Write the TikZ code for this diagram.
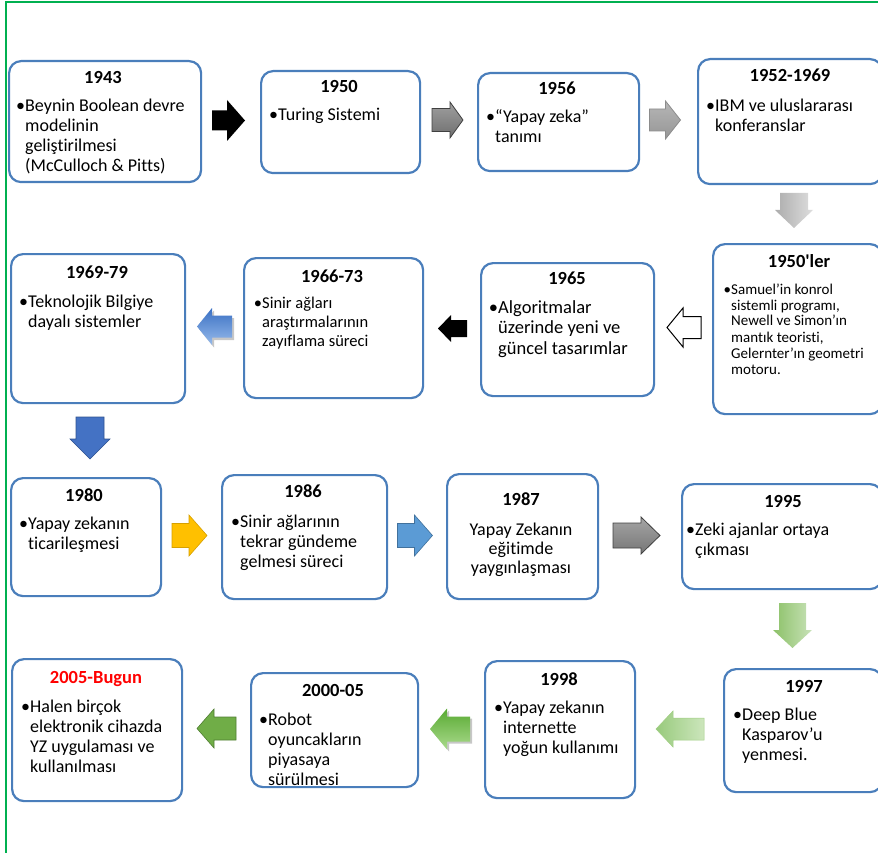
\documentclass[tikz,border=0pt]{standalone}
\usepackage{fontspec}
\newfontfamily\calibri{Carlito}[Ligatures=NoCommon]
\definecolor{boxblue}{HTML}{4A7EBB}
\definecolor{frame}{HTML}{00B050}
\newcommand\blt{\leavevmode\llap{\textbullet}}
% block arrows: #1 name, #2 centre, #3 length, #4 head width, #5 shaft width, #6 head length, #7 style
\newcommand\barwR[7]{%
  \coordinate (#1) at #2;
  \path[#7, shift={(#1)}]
    ({-(#3)/2},{-(#5)/2}) -- ({(#3)/2-(#6)},{-(#5)/2}) -- ({(#3)/2-(#6)},{-(#4)/2})
    -- ({(#3)/2},0) -- ({(#3)/2-(#6)},{(#4)/2}) -- ({(#3)/2-(#6)},{(#5)/2})
    -- ({-(#3)/2},{(#5)/2}) -- cycle;}
\newcommand\barwL[7]{%
  \coordinate (#1) at #2;
  \path[#7, shift={(#1)}]
    ({(#3)/2},{-(#5)/2}) -- ({-(#3)/2+(#6)},{-(#5)/2}) -- ({-(#3)/2+(#6)},{-(#4)/2})
    -- ({-(#3)/2},0) -- ({-(#3)/2+(#6)},{(#4)/2}) -- ({-(#3)/2+(#6)},{(#5)/2})
    -- ({(#3)/2},{(#5)/2}) -- cycle;}
\newcommand\barwD[7]{%
  \coordinate (#1) at #2;
  \path[#7, shift={(#1)}]
    ({-(#5)/2},{-(#3)/2}) -- ({-(#5)/2},{(#3)/2-(#6)}) -- ({-(#4)/2},{(#3)/2-(#6)})
    -- (0,{(#3)/2}) -- ({(#4)/2},{(#3)/2-(#6)}) -- ({(#5)/2},{(#3)/2-(#6)})
    -- ({(#5)/2},{-(#3)/2}) -- cycle;}
\tikzset{
  tlbox/.style={draw=boxblue, line width=2.2pt, rounded corners=12pt, fill=white, anchor=north west, inner sep=0pt},
  yr/.style={inner sep=0pt, anchor=base, font=\calibri\bfseries\fontsize{18.5}{20}\selectfont},
  bt/.style={inner sep=0pt, anchor=base west, font=\calibri\fontsize{18}{20}\selectfont},
  ashadow/.style={fill=black, opacity=0.22},
}
\begin{document}
\begin{tikzpicture}[x=1pt,y=-1pt]
\useasboundingbox (0,0) rectangle (878,853);
% frame
\coordinate (fl) at (6,853);
\coordinate (ftl) at (6,2);
\coordinate (ftr) at (878,2);
\draw[frame, line width=1.5pt] (fl) -- (ftl) -- (ftr);

% ---------- boxes ----------
\node[tlbox, minimum width=192pt, minimum height=121pt] (b1943) at (8,60) {};
\node[tlbox, minimum width=159pt, minimum height=102pt] (b1950) at (260,70) {};
\node[tlbox, minimum width=161pt, minimum height=98pt]  (b1956) at (477,72) {};
\node[tlbox, minimum width=184pt, minimum height=125pt] (b1952) at (697,58) {};
\node[tlbox, minimum width=174pt, minimum height=149pt] (b6979) at (10,253) {};
\node[tlbox, minimum width=179pt, minimum height=140pt] (b6673) at (243,257) {};
\node[tlbox, minimum width=173pt, minimum height=133pt] (b1965) at (480,262) {};
\node[tlbox, minimum width=169pt, minimum height=170pt] (b1950l) at (712,243) {};
\node[tlbox, minimum width=150pt, minimum height=118pt] (b1980) at (10,477) {};
\node[tlbox, minimum width=165pt, minimum height=124pt] (b1986) at (221,474) {};
\node[tlbox, minimum width=151pt, minimum height=125pt] (b1987) at (446,473) {};
\node[tlbox, minimum width=200pt, minimum height=105pt] (b1995) at (681,483) {};
\node[tlbox, minimum width=170pt, minimum height=142pt] (b2005) at (11,658) {};
\node[tlbox, minimum width=167pt, minimum height=114pt] (b2000) at (250,672) {};
\node[tlbox, minimum width=150pt, minimum height=137pt] (b1998) at (484,660) {};
\node[tlbox, minimum width=158pt, minimum height=123pt] (b1997) at (723,668) {};

% ---------- texts ----------
\node[yr] (t1943) at (103,84) {1943};
\node[bt] (x1943) at (25,112) {\parbox[t]{200pt}{\blt Beynin Boolean devre\\modelinin\\geliştirilmesi\\(McCulloch \& Pitts)}};

\node[yr] (t1950) at (339,93) {1950};
\node[bt] (x1950) at (278,121) {\parbox[t]{150pt}{\blt Turing Sistemi}};

\node[yr] (t1956) at (557,95) {1956};
\node[bt] (x1956) at (495,123) {\parbox[t]{150pt}{\blt “Yapay zeka”\\tanımı}};

\node[yr] (t1952) at (790,82) {1952-1969};
\node[bt] (x1952) at (715,112) {\parbox[t]{170pt}{\blt IBM ve uluslararası\\konferanslar}};

\node[yr] (t6979) at (97,278) {1969-79};
\node[bt] (x6979) at (28,307) {\parbox[t]{170pt}{\blt Teknolojik Bilgiye\\dayalı sistemler}};

\node[yr] (t6673) at (332,282) {1966-73};
\node[bt, font=\calibri\fontsize{16.5}{19}\selectfont] (x6673) at (262,308) {\parbox[t]{160pt}{\blt Sinir ağları\\araştırmalarının\\zayıflama süreci}};

\node[yr] (t1965) at (567,284) {1965};
\node[bt, font=\calibri\fontsize{18.5}{20.5}\selectfont] (x1965) at (498,313) {\parbox[t]{160pt}{\blt Algoritmalar\\üzerinde yeni ve\\güncel tasarımlar}};

\node[yr] (t1950l) at (799,267) {1950'ler};
\node[bt, font=\calibri\fontsize{15}{16}\selectfont] (x1950l) at (731,294) {\parbox[t]{150pt}{\blt Samuel’in konrol\\sistemli programı,\\Newell ve Simon’ın\\mantık teoristi,\\Gelernter’ın geometri\\motoru.}};

\node[yr] (t1980) at (84,501) {1980};
\node[bt] (x1980) at (28,529) {\parbox[t]{150pt}{\blt Yapay zekanın\\ticarileşmesi}};

\node[yr] (t1986) at (303,497) {1986};
\node[bt] (x1986) at (240,527) {\parbox[t]{150pt}{\blt Sinir ağlarının\\tekrar gündeme\\gelmesi süreci}};

\node[yr] (t1987) at (521,505) {1987};
\node[bt, anchor=base, font=\calibri\fontsize{18}{19}\selectfont] (x1987) at (521,535) {\parbox[t]{140pt}{\centering Yapay Zekanın\\eğitimde\\yaygınlaşması}};

\node[yr] (t1995) at (783,507) {1995};
\node[bt] (x1995) at (695,535) {\parbox[t]{180pt}{\blt Zeki ajanlar ortaya\\çıkması}};

\node[yr, text=red] (t2005) at (96,683) {2005-Bugun};
\node[bt] (x2005) at (30,712) {\parbox[t]{160pt}{\blt Halen birçok\\elektronik cihazda\\YZ uygulaması ve\\kullanılması}};

\node[yr] (t2000) at (333,696) {2000-05};
\node[bt] (x2000) at (268,725) {\parbox[t]{150pt}{\blt Robot\\oyuncakların\\piyasaya\\sürülmesi}};

\node[yr] (t1998) at (559,685) {1998};
\node[bt] (x1998) at (503,713) {\parbox[t]{150pt}{\blt Yapay zekanın\\internette\\yoğun kullanımı}};

\node[yr] (t1997) at (804,692) {1997};
\node[bt] (x1997) at (742,720) {\parbox[t]{150pt}{\blt Deep Blue\\Kasparov’u\\yenmesi.}};

% ---------- block arrows ----------
% row 1
\barwR{a1}{(228.5,120.5)}{33}{41}{20}{18}{fill=black}
\barwR{a2}{(447.5,120)}{31}{36}{23}{13}{draw={rgb,255:red,64;green,64;blue,64}, line width=0.8pt, top color={rgb,255:red,160;green,160;blue,160}, bottom color={rgb,255:red,110;green,110;blue,110}}
\barwR{a3}{(665,120)}{31}{38}{22}{15}{draw={rgb,255:red,140;green,140;blue,140}, line width=0.8pt, top color={rgb,255:red,182;green,182;blue,182}, bottom color={rgb,255:red,150;green,150;blue,150}}
\barwD{a4}{(794,210.5)}{35}{38}{28}{18}{left color={rgb,255:red,172;green,172;blue,172}, right color={rgb,255:red,222;green,222;blue,222}}
% row 2
\barwL{a5s}{(216.5,329)}{35}{37}{22}{15}{ashadow}
\barwL{a5}{(214.5,326.5)}{35}{37}{22}{15}{top color={rgb,255:red,58;green,112;blue,196}, bottom color={rgb,255:red,150;green,186;blue,234}}
\barwL{a6}{(452.5,328.5)}{29}{27}{17}{13}{fill=black}
\barwL{a7}{(684,327.5)}{34}{39}{22}{16}{fill=white, draw=black, line width=1pt}
\barwD{a8}{(90,438)}{42}{40}{28}{20}{fill={rgb,255:red,68;green,114;blue,196}, draw={rgb,255:red,47;green,82;blue,143}, line width=0.6pt}
% row 3
\barwR{a9}{(189.5,535.5)}{35}{41}{24}{18}{fill={rgb,255:red,255;green,192;blue,0}, draw={rgb,255:red,214;green,160;blue,0}, line width=0.6pt}
\barwR{a10}{(415,535.5)}{35}{41}{24}{18}{fill={rgb,255:red,91;green,155;blue,213}, draw={rgb,255:red,65;green,113;blue,156}, line width=0.6pt}
\barwR{a11}{(636.5,535.5)}{47}{37}{25}{19}{draw={rgb,255:red,64;green,64;blue,64}, line width=0.8pt, top color={rgb,255:red,165;green,165;blue,165}, bottom color={rgb,255:red,118;green,118;blue,118}}
\barwD{a12}{(792.5,625.5)}{45}{39}{27}{18}{left color={rgb,255:red,140;green,193;blue,104}, right color={rgb,255:red,200;green,226;blue,184}}
% row 4
\barwL{a13}{(216.5,728.5)}{39}{39}{23}{17}{fill={rgb,255:red,112;green,173;blue,71}, draw={rgb,255:red,80;green,126;blue,50}, line width=0.6pt}
\barwL{a14s}{(452,731)}{40}{41}{25}{17}{ashadow}
\barwL{a14}{(450,729)}{40}{41}{25}{17}{top color={rgb,255:red,88;green,170;blue,50}, bottom color={rgb,255:red,170;green,218;blue,140}}
\barwL{a15}{(680,729)}{48}{36}{22}{17}{left color={rgb,255:red,152;green,202;blue,124}, right color={rgb,255:red,204;green,230;blue,188}, draw={rgb,255:red,160;green,205;blue,130}, line width=0.5pt}
\end{tikzpicture}
\end{document}
